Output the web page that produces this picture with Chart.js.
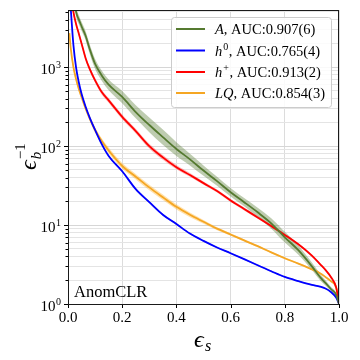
<!DOCTYPE html>
<html>
<head>
<meta charset="utf-8">
<script src="https://cdn.jsdelivr.net/npm/chart.js@4.4.1/dist/chart.umd.min.js"></script>
<style>
  html, body { margin: 0; padding: 0; background: #fff; }
  #wrap { width: 360px; height: 360px; }
</style>
</head>
<body>
<div id="wrap"><canvas id="roc" width="360" height="360"></canvas></div>
<script>
// signal efficiency grid (shared by A, h0, h+)
const epsS = [0.01, 0.02, 0.03, 0.04, 0.05, 0.065, 0.08, 0.1, 0.125, 0.15, 0.2, 0.25, 0.3, 0.35, 0.4,
  0.45, 0.5, 0.55, 0.6, 0.65, 0.7, 0.75, 0.8, 0.85, 0.9, 0.93, 0.95, 0.97, 0.99, 1.0];
// LQ starts a bit earlier
const epsSLQ = [0.005, 0.01, 0.02, 0.03, 0.04, 0.05, 0.065, 0.08, 0.1, 0.125, 0.15, 0.2, 0.25, 0.3, 0.35, 0.4,
  0.45, 0.5, 0.55, 0.6, 0.65, 0.7, 0.75, 0.8, 0.85, 0.9, 0.93, 0.95, 0.97, 0.99, 1.0];

// inverse background efficiency, mean / upper / lower
const aMean = [15000, 9000, 5000, 4000, 3300, 2500, 1700, 1100, 780, 600, 420, 270, 185, 130, 92,
  68, 49, 36, 26, 19.5, 14.5, 10.5, 7.0, 4.8, 3.0, 2.2, 1.85, 1.55, 1.3, 1.0];
const aHi = [17000, 10000, 5700, 4550, 3750, 2850, 1950, 1270, 900, 700, 500, 330, 230, 162, 112,
  80, 57, 41, 29.5, 22, 16.6, 12.2, 8.2, 5.5, 3.35, 2.42, 2.0, 1.65, 1.36, 1.0];
const aLo = [13000, 8000, 4400, 3500, 2900, 2200, 1480, 950, 670, 510, 350, 225, 150, 104, 75,
  57, 42, 31.5, 23, 17.3, 12.7, 9.0, 6.0, 4.2, 2.7, 2.0, 1.72, 1.46, 1.24, 1.0];

const h0Mean = [5600, 1900, 980, 640, 460, 315, 230, 160, 105, 75, 48, 28.5, 19.5, 13.5, 10.3,
  7.8, 6.3, 5.2, 4.4, 3.7, 3.1, 2.6, 2.2, 1.95, 1.75, 1.66, 1.57, 1.42, 1.2, 1.0];
const h0Hi = [5800, 1960, 1010, 660, 475, 325, 237, 165, 108, 77.3, 49.5, 29.4, 20.1, 13.9, 10.6,
  8.0, 6.45, 5.3, 4.5, 3.78, 3.16, 2.65, 2.24, 1.98, 1.78, 1.69, 1.6, 1.45, 1.22, 1.0];
const h0Lo = [5400, 1840, 950, 620, 446, 305, 223, 155, 102, 72.8, 46.5, 27.6, 18.9, 13.1, 10.0,
  7.6, 6.15, 5.1, 4.3, 3.62, 3.04, 2.55, 2.16, 1.92, 1.72, 1.63, 1.54, 1.39, 1.18, 1.0];

const hpMean = [9000, 5000, 3500, 2650, 2000, 1300, 950, 680, 480, 380, 235, 155, 100, 72, 54,
  43, 34, 27, 20.5, 16, 12.5, 9.7, 7.5, 5.7, 4.1, 3.2, 2.7, 2.2, 1.6, 1.0];
const hpHi = [9600, 5350, 3750, 2840, 2140, 1390, 1020, 730, 515, 407, 252, 166, 107, 77, 57.5,
  45.5, 35.7, 28.3, 21.4, 16.7, 13, 10.1, 7.8, 5.9, 4.25, 3.3, 2.78, 2.26, 1.63, 1.0];
const hpLo = [8400, 4650, 3270, 2470, 1860, 1210, 885, 635, 447, 354, 219, 145, 93, 67, 51,
  40.8, 32.4, 25.8, 19.6, 15.3, 12, 9.3, 7.2, 5.5, 3.95, 3.1, 2.62, 2.14, 1.57, 1.0];

const lqMean = [2700, 1750, 1000, 700, 530, 420, 300, 225, 160, 115, 88, 56, 41, 30, 22.5, 17,
  13.5, 11, 9.0, 7.6, 6.4, 5.4, 4.5, 3.8, 3.25, 2.75, 2.45, 2.2, 1.95, 1.6, 1.0];
const lqHi = [2900, 1900, 1080, 760, 575, 455, 325, 244, 174, 125, 96, 61, 44.5, 32.5, 24.3, 18.3,
  14.4, 11.6, 9.4, 7.9, 6.6, 5.55, 4.62, 3.9, 3.32, 2.8, 2.49, 2.23, 1.97, 1.61, 1.0];
const lqLo = [2500, 1620, 925, 645, 490, 388, 277, 208, 147, 106, 81, 51.5, 37.8, 27.7, 20.8, 15.8,
  12.6, 10.4, 8.6, 7.3, 6.2, 5.25, 4.38, 3.7, 3.18, 2.7, 2.41, 2.17, 1.93, 1.59, 1.0];

// legend: [italic name, superscript, rest]
const seriesNames = ["A", "h", "h", "LQ"];
const seriesSups = ["", "0", "+", ""];
const aucText = [", AUC:0.907(6)", ", AUC:0.765(4)", ", AUC:0.913(2)", ", AUC:0.854(3)"];
const lineColors = ["#557a30", "#0000ff", "#ff0000", "#f5a623"];
const bandColors = ["rgba(85,122,48,0.38)", "rgba(0,0,255,0.3)", "rgba(255,0,0,0.28)", "rgba(255,165,0,0.33)"];

const xTicks = [0, 0.2, 0.4, 0.6, 0.8, 1.0];
const yDecades = [1, 10, 100, 1000];
const yMax = 5300;

const serif = "'Liberation Serif', 'DejaVu Serif', serif";

function toPts(xs, ys) {
  return xs.map((x, i) => ({ x, y: ys[i] }));
}

function seriesSets(xs, mean, hi, lo, k) {
  return [
    {
      data: toPts(xs, hi), borderWidth: 0, pointRadius: 0, fill: "+1",
      backgroundColor: bandColors[k], borderColor: "rgba(0,0,0,0)", order: 2,
      cubicInterpolationMode: "monotone"
    },
    {
      data: toPts(xs, lo), borderWidth: 0, pointRadius: 0, fill: false,
      borderColor: "rgba(0,0,0,0)", order: 2, cubicInterpolationMode: "monotone"
    },
    {
      data: toPts(xs, mean), borderWidth: 1.8, pointRadius: 0, fill: false,
      borderColor: lineColors[k], order: 1, cubicInterpolationMode: "monotone"
    }
  ];
}

const yGridValues = [];
yDecades.forEach((d) => {
  for (let m = 1; m <= 9; m++) {
    if (d * m <= yMax) yGridValues.push(d * m);
  }
});

const decoPlugin = {
  id: "deco",
  afterDraw(chart) {
    const { ctx, chartArea: a, scales } = chart;
    const x = scales.x, y = scales.y;
    ctx.save();
    ctx.strokeStyle = "#000";
    ctx.lineWidth = 1;

    ctx.beginPath();
    xTicks.forEach((v) => {
      const px = Math.round(x.getPixelForValue(v)) + 0.5;
      ctx.moveTo(px, a.bottom);
      ctx.lineTo(px, a.bottom + 4);
    });
    yGridValues.forEach((v) => {
      const py = Math.round(y.getPixelForValue(v)) + 0.5;
      const len = yDecades.includes(v) ? 4 : 2.5;
      ctx.moveTo(a.left, py);
      ctx.lineTo(a.left - len, py);
    });
    ctx.stroke();

    ctx.strokeStyle = "#1a1a1a";
    ctx.strokeRect(a.left + 0.5, a.top + 0.5, a.right - a.left - 1, a.bottom - a.top);

    // y tick labels 10^n
    ctx.fillStyle = "#000";
    ctx.textAlign = "right";
    ctx.textBaseline = "alphabetic";
    yDecades.forEach((d, e) => {
      const py = y.getPixelForValue(d);
      ctx.font = "10px " + serif;
      const ew = ctx.measureText(String(e)).width;
      ctx.fillText(String(e), 61, py + 1);
      ctx.font = "15px " + serif;
      ctx.fillText("10", 61 - ew - 0.5, py + 6.5);
    });

    // label inside plot
    ctx.textAlign = "left";
    ctx.font = "16.5px " + serif;
    ctx.fillText("AnomCLR", 74, 297);

    // x title
    ctx.font = "italic 24px " + serif;
    ctx.fillText("\u03f5", 194, 347);
    ctx.font = "italic 16px " + serif;
    ctx.fillText("s", 205, 351);

    // y title
    ctx.save();
    ctx.translate(36, 170);
    ctx.rotate(-Math.PI / 2);
    ctx.font = "italic 24px " + serif;
    ctx.fillText("\u03f5", 0, 0);
    const ew = ctx.measureText("\u03f5").width;
    ctx.font = "15px " + serif;
    ctx.fillText("\u22121", ew + 1, -11);
    ctx.font = "italic 15px " + serif;
    ctx.fillText("b", ew + 1, 5);
    ctx.restore();

    // legend
    const lx = 171.5, ly = 17.5, lw = 160, lh = 90;
    ctx.beginPath();
    ctx.roundRect(lx, ly, lw, lh, 3);
    ctx.fillStyle = "rgba(255,255,255,0.85)";
    ctx.fill();
    ctx.strokeStyle = "#cccccc";
    ctx.stroke();
    const rows = [29, 50.5, 72, 93];
    seriesNames.forEach((name, k) => {
      const ry = rows[k];
      ctx.strokeStyle = lineColors[k];
      ctx.lineWidth = 2;
      ctx.beginPath();
      ctx.moveTo(176, ry);
      ctx.lineTo(205, ry);
      ctx.stroke();
      ctx.fillStyle = "#000";
      let tx = 215;
      ctx.font = "italic 14.5px " + serif;
      ctx.fillText(name, tx, ry + 5);
      tx += ctx.measureText(name).width;
      if (seriesSups[k]) {
        ctx.font = "10px " + serif;
        ctx.fillText(seriesSups[k], tx + 1, ry - 1);
        tx += ctx.measureText(seriesSups[k]).width + 1.5;
      }
      ctx.font = "14.5px " + serif;
      ctx.fillText(aucText[k], tx, ry + 5);
    });
    ctx.restore();
  }
};

new Chart(document.getElementById("roc"), {
  type: "line",
  data: {
    datasets: [
      ...seriesSets(epsS, aMean, aHi, aLo, 0),
      ...seriesSets(epsS, h0Mean, h0Hi, h0Lo, 1),
      ...seriesSets(epsS, hpMean, hpHi, hpLo, 2),
      ...seriesSets(epsSLQ, lqMean, lqHi, lqLo, 3)
    ]
  },
  options: {
    responsive: false,
    animation: false,
    devicePixelRatio: 1,
    layout: { padding: { top: 10, right: 21, left: 0, bottom: 0 } },
    plugins: {
      legend: { display: false },
      tooltip: { enabled: false }
    },
    scales: {
      x: {
        type: "linear",
        min: 0,
        max: 1,
        afterFit: (s) => { s.height = 56; },
        afterBuildTicks: (s) => { s.ticks = xTicks.map((v) => ({ value: v })); },
        ticks: {
          color: "#000",
          padding: 5,
          maxRotation: 0,
          font: { family: serif, size: 15 },
          callback: (v) => Number(v).toFixed(1)
        },
        grid: { color: "#dcdcdc", lineWidth: 1, drawTicks: false },
        border: { display: false }
      },
      y: {
        type: "logarithmic",
        min: 1,
        max: yMax,
        afterFit: (s) => { s.width = 68; },
        afterBuildTicks: (s) => { s.ticks = yGridValues.map((v) => ({ value: v })); },
        ticks: { display: false },
        grid: {
          color: (c) => (yDecades.includes(c.tick?.value) ? "#d6d6d6" : "#e4e4e4"),
          lineWidth: 1,
          drawTicks: false
        },
        border: { display: false }
      }
    }
  },
  plugins: [decoPlugin]
});
</script>
</body>
</html>
